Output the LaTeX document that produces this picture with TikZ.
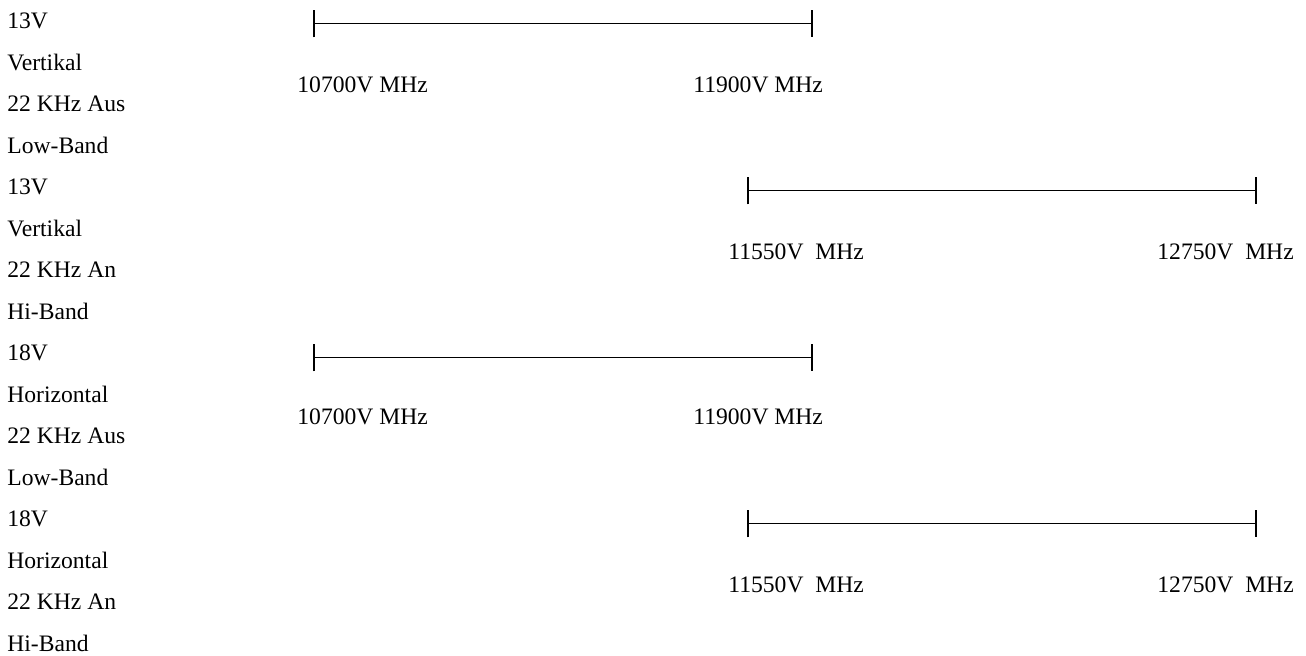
\documentclass[tikz,border=0pt]{standalone}
\usepackage{fontspec}
\setmainfont{Liberation Serif}
\usepackage{tikz}
\usetikzlibrary{arrows.meta}

\begin{document}
\begin{tikzpicture}[x=0.5pt,y=-0.5pt,
    band/.style={{Bar[width=13.5pt,line width=0.8pt]}-{Bar[width=13.5pt,line width=0.8pt]},line width=0.5pt},
    lbl/.style={anchor=base west,inner sep=0pt,font=\fontsize{11.8}{14}\selectfont}]
    \useasboundingbox (0,0) rectangle (1306,656);

    % Schaltzustaende
    \foreach \txt [count=\i from 0] in {13V,Vertikal,22 KHz Aus,Low-Band,13V,Vertikal,22 KHz An,Hi-Band,18V,Horizontal,22 KHz Aus,Low-Band,18V,Horizontal,22 KHz An,Hi-Band}
        \node[lbl] (zst\i) at (7,{29+41.5*\i}) {\txt};

    % Frequenzbereiche
    \coordinate (vlo0) at (313,24);  \coordinate (vlo1) at (813,24);
    \coordinate (vhi0) at (747,191); \coordinate (vhi1) at (1257,191);
    \coordinate (hlo0) at (313,358); \coordinate (hlo1) at (813,358);
    \coordinate (hhi0) at (747,524); \coordinate (hhi1) at (1257,524);

    \draw[band] (vlo0) -- (vlo1);
    \node[lbl] (fvlo0) at (297,93) {10700V MHz};
    \node[lbl] (fvlo1) at (693,93) {11900V MHz};

    \draw[band] (vhi0) -- (vhi1);
    \node[lbl] (fvhi0) at (728,260) {11550V~~MHz};
    \node[lbl] (fvhi1) at (1157,260) {12750V~~MHz};

    \draw[band] (hlo0) -- (hlo1);
    \node[lbl] (fhlo0) at (297,425) {10700V MHz};
    \node[lbl] (fhlo1) at (693,425) {11900V MHz};

    \draw[band] (hhi0) -- (hhi1);
    \node[lbl] (fhhi0) at (728,593) {11550V~~MHz};
    \node[lbl] (fhhi1) at (1157,593) {12750V~~MHz};
\end{tikzpicture}
\end{document}
